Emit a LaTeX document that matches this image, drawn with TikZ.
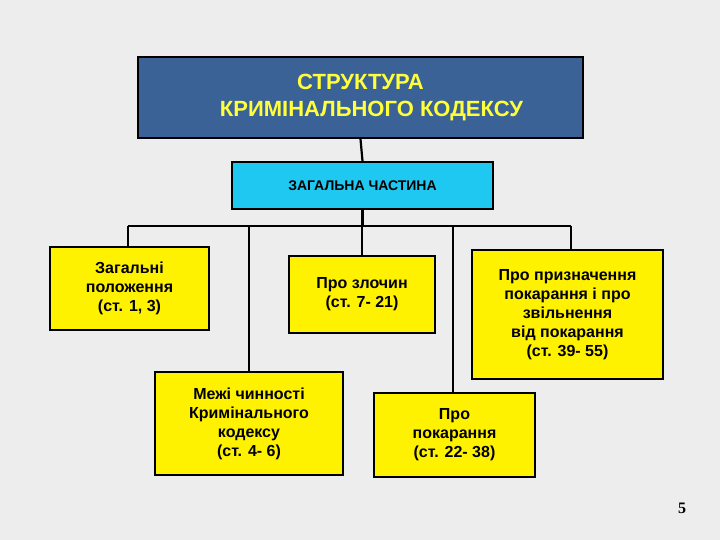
\documentclass[tikz,border=0pt]{standalone}
\usepackage{fontspec}
\setmainfont{Liberation Sans}
\newfontfamily\serifnum{Liberation Serif}
\begin{document}
\begin{tikzpicture}[x=1pt,y=-1pt,
  ybox/.style={draw=black,line width=2.2pt,fill=yellow,align=center,font=\bfseries\fontsize{16}{19}\selectfont,inner sep=0pt},
  conn/.style={line width=2.2pt}]
\fill[gray!14] (0,0) rectangle (720,540);
\useasboundingbox (0,0) rectangle (720,540);
\node[draw=black,line width=2.2pt,fill={rgb,255:red,58;green,98;blue,150},minimum width=445pt,minimum height=81pt,align=center,text={rgb,255:red,255;green,255;blue,60},font=\bfseries\fontsize{22}{27}\selectfont] (top) at (360.5,97.5) {СТРУКТУРА\\\quad КРИМІНАЛЬНОГО КОДЕКСУ};
\node[draw=black,line width=2.2pt,fill={rgb,255:red,30;green,200;blue,240},minimum width=261pt,minimum height=47pt,font=\bfseries\fontsize{14}{17}\selectfont] (gen) at (362.5,185.5) {ЗАГАЛЬНА ЧАСТИНА};
\node[ybox,minimum width=159pt,minimum height=83pt] (a) at (129.5,288.5) {Загальні\\положення\\(ст. 1, 3)};
\node[ybox,minimum width=146pt,minimum height=77pt] (b) at (362,294.5) {Про злочин\\(ст. 7- 21)};
\node[ybox,minimum width=191pt,minimum height=129pt] (c) at (567.5,314.5) {Про призначення\\покарання і про\\звільнення\\від покарання\\(ст. 39- 55)};
\node[ybox,minimum width=188pt,minimum height=103pt] (d) at (249,423.5) {Межі чинності\\Кримінального\\кодексу\\(ст. 4- 6)};
\node[ybox,minimum width=161pt,minimum height=84pt] (e) at (454.5,435) {Про\\покарання\\(ст. 22- 38)};
\node[font=\serifnum\bfseries\fontsize{16}{19}\selectfont] (pg) at (682,508) {5};
\coordinate (bl) at (128,226);
\coordinate (br) at (571,226);
\draw[conn] (top.south) -- (gen.north);
\draw[conn] (gen.south) -- (gen.south |- bl);
\draw[conn] (bl) -- (br);
\draw[conn] (bl) -- (a.north -| bl);
\draw[conn] (249,226) -- (d.north);
\draw[conn] (362,226) -- (b.north);
\draw[conn] (453,226) -- (453,393);
\draw[conn] (br) -- (c.north -| br);
\end{tikzpicture}
\end{document}
